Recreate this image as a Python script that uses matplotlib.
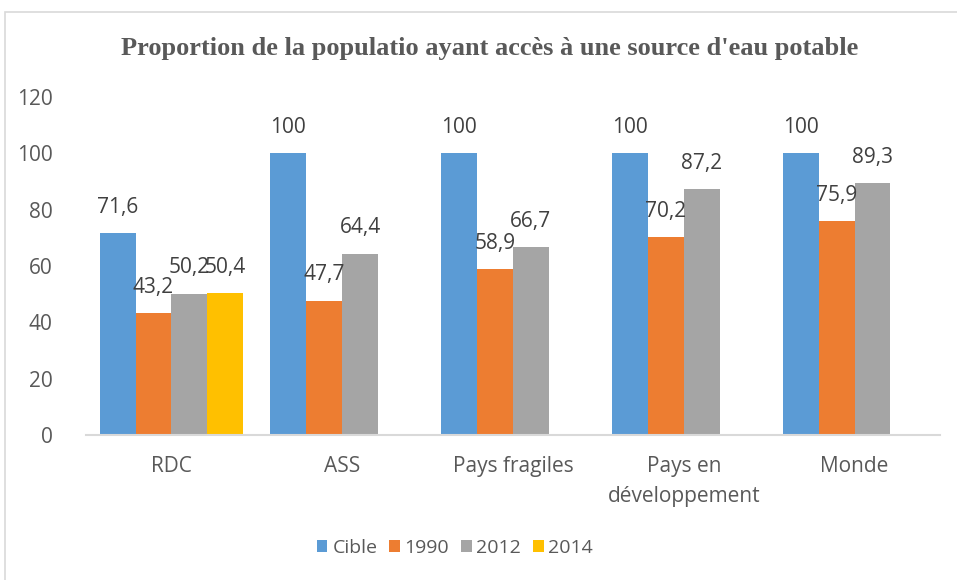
import numpy as np
import matplotlib
matplotlib.use('Agg')
import matplotlib.pyplot as plt
from matplotlib.patches import Rectangle

# Données
categories = ['RDC', 'ASS', 'Pays fragiles', 'Pays en\ndéveloppement', 'Monde']
cible = [71.6, 100, 100, 100, 100]
an_1990 = [43.2, 47.7, 58.9, 70.2, 75.9]
an_2012 = [50.2, 64.4, 66.7, 87.2, 89.3]
an_2014 = [50.4, np.nan, np.nan, np.nan, np.nan]
series_noms = ['Cible', '1990', '2012', '2014']
couleurs = ['#5B9BD5', '#ED7D31', '#A5A5A5', '#FFC000']

plt.rcParams['font.family'] = ['Open Sans', 'DejaVu Sans']
taille = 15

fig = plt.figure(figsize=(9.57, 5.8), dpi=100)
ax = fig.add_axes([86 / 957, 1 - 435 / 580, (940 - 86) / 957, (435 - 97) / 580])

x = np.arange(len(categories))
largeur = 0.21
series = [cible, an_1990, an_2012, an_2014]
for i, (vals, nom, c) in enumerate(zip(series, series_noms, couleurs)):
    pos = x + (i - 1.5) * largeur
    ax.bar(pos, vals, width=largeur, color=c, label=nom, linewidth=0)
    for p, v in zip(pos, vals):
        if np.isnan(v):
            continue
        txt = f'{v:g}'.replace('.', ',')
        ax.annotate(txt, (p, v), xytext=(0, 11), textcoords='offset points',
                    ha='center', va='bottom', fontsize=taille, color='#404040')

ax.set_xlim(-0.5, len(categories) - 0.5)
ax.set_ylim(0, 120)
ax.set_yticks(range(0, 121, 20))
ax.set_xticks(x)
ax.set_xticklabels(categories, fontsize=taille, color='#595959', va='top',
                   linespacing=1.6)
ax.tick_params(axis='y', length=0, pad=24, labelsize=taille, labelcolor='#595959')
ax.tick_params(axis='x', length=0, pad=15)
for s in ['top', 'right', 'left']:
    ax.spines[s].set_visible(False)
ax.spines['bottom'].set_color('#D9D9D9')
ax.spines['bottom'].set_linewidth(1.5)

fig.text(490 / 957, 1 - 48 / 580,
         "Proportion de la populatio ayant accès à une source d'eau potable",
         ha='center', va='center', fontsize=19, fontweight='bold',
         color='#595959', family='Liberation Serif')

leg = fig.legend(loc='center', bbox_to_anchor=(455 / 957, 1 - 548 / 580), ncol=4,
                 frameon=False, fontsize=14, handlelength=0.55, handleheight=0.55,
                 handletextpad=0.25, columnspacing=0.6)
for t in leg.get_texts():
    t.set_color('#595959')

fig.patches.append(Rectangle((5 / 957, -0.02), 1.02, 1 - 12 / 580 + 0.02,
                             transform=fig.transFigure, fill=False,
                             edgecolor='#D9D9D9', linewidth=1.2))

fig.savefig('out.png', dpi=100)
